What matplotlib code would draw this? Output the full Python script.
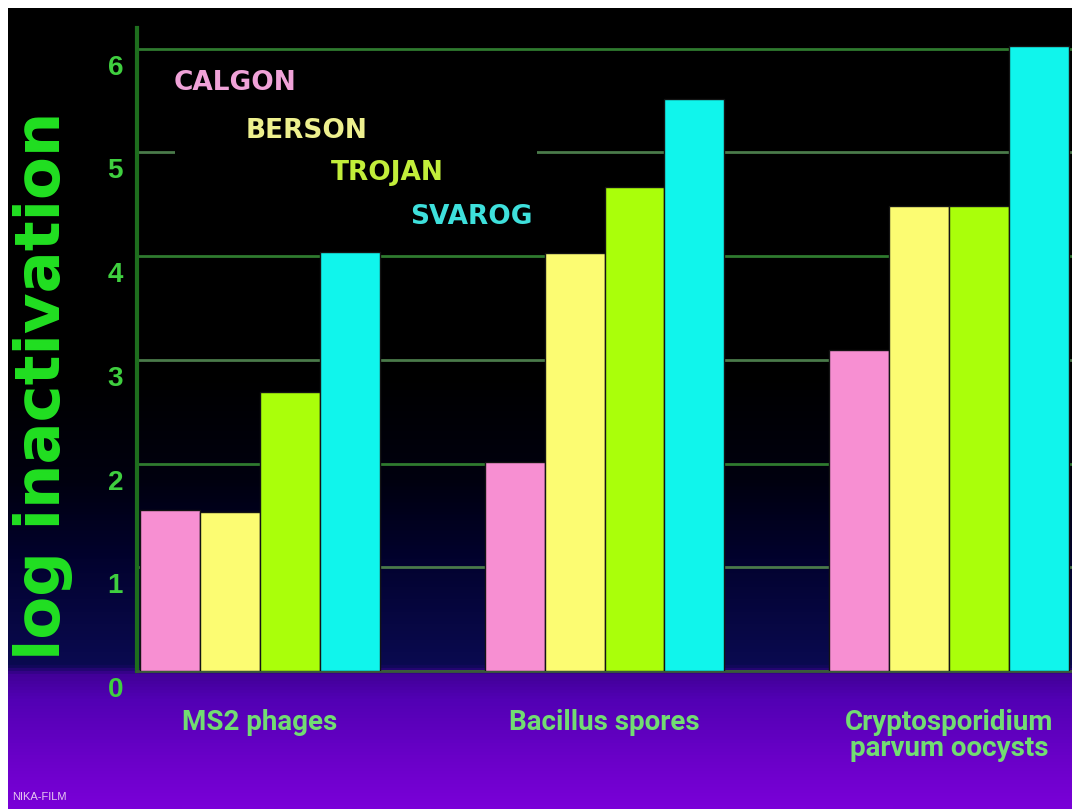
import numpy as np
import matplotlib
matplotlib.use('Agg')
import matplotlib.pyplot as plt
from matplotlib.colors import LinearSegmentedColormap
from matplotlib.patches import Rectangle
from matplotlib.transforms import ScaledTranslation

# data
groups = ['MS2 phages', 'Bacillus spores', 'Cryptosporidium\nparvum oocysts']
products = ['CALGON', 'BERSON', 'TROJAN', 'SVAROG']
calgon = [1.55, 2.02, 3.10]
berson = [1.53, 4.03, 4.48]
trojan = [2.69, 4.67, 4.48]
svarog = [4.04, 5.52, 6.03]
yticks = [0, 1, 2, 3, 4, 5, 6]

bar_colors = ['#f78fd2', '#fcfc72', '#aaff0a', '#10f5ec']
text_colors = ['#f0a2d8', '#eef08e', '#c2ee3a', '#3ee0dc']

W, H = 1072, 809
fig = plt.figure(figsize=(W / 100, H / 100), dpi=100, facecolor='white')

# background gradient (black -> navy -> purple)
bg = fig.add_axes([8 / W, 0, 1 - 8 / W, 1 - 8 / H])
stops = [(0.0, '#000000'), (0.46, '#000000'), (0.59, '#00000f'),
         (0.69, '#02022e'), (0.822, '#0a0a50'), (0.834, '#420098'),
         (0.865, '#5200b4'), (0.94, '#6a00c8'), (1.0, '#7a00d8')]
cmap = LinearSegmentedColormap.from_list('slide', stops)
grad = np.linspace(0, 1, 800).reshape(-1, 1)
bg.imshow(grad, aspect='auto', cmap=cmap, extent=[0, 1, 1, 0])
bg.set_axis_off()

# main axes
ax = fig.add_axes([137 / W, (809 - 671) / H, (W - 137) / W, 643 / H])
ax.set_facecolor('none')
ax.set_xlim(-0.357, 2.357)
ax.set_ylim(0, 6.2)

x = np.arange(len(groups))
w = 0.174
series = [calgon, berson, trojan, svarog]
for i, vals in enumerate(series):
    ax.bar(x + (i - 1.5) * w, vals, w, color=bar_colors[i],
           edgecolor='#141414', linewidth=1, zorder=3)

ax.set_axisbelow(True)
ax.yaxis.grid(True, color='#4a7a4a', linewidth=2)
ax.set_yticks(yticks)
ax.set_yticklabels([str(t) for t in yticks])
ax.set_xticks(x)
ax.set_xticklabels(groups)

# some gridlines on the slide are greener than the rest
for t, gl in zip(yticks, ax.get_ygridlines()):
    if t in (2, 4, 6):
        gl.set_color('#2f7a2f')

for s in ['top', 'right']:
    ax.spines[s].set_visible(False)
ax.spines['left'].set_color('#1e6e1e')
ax.spines['left'].set_linewidth(3)
ax.spines['bottom'].set_color('#3a5a3a')
ax.spines['bottom'].set_linewidth(2)

ax.tick_params(axis='y', length=0, pad=10, labelsize=20, labelcolor='#3fcf3f')
ax.tick_params(axis='x', length=0, pad=27, labelsize=20, labelcolor='#72dc72')

shift = ScaledTranslation(0, -0.16, fig.dpi_scale_trans)
for lab in ax.get_yticklabels():
    lab.set_fontweight('bold')
    lab.set_fontfamily(['Liberation Sans', 'DejaVu Sans'])
    lab.set_transform(lab.get_transform() + shift)
for lab in ax.get_xticklabels():
    lab.set_fontfamily(['Roboto', 'DejaVu Sans'])
    lab.set_fontweight('bold')
    lab.set_linespacing(1.0)

# black block behind the product names hides part of the 5 gridline
ax.add_patch(Rectangle((-0.247, 4.9), 1.05, 0.17, facecolor='black',
                       edgecolor='none', zorder=1))

# product names as a stepped legend
legend_pos = [(235, 83), (307, 131), (387, 173), (471, 217)]
for name, c, (px, py) in zip(products, text_colors, legend_pos):
    fig.text(px / W, 1 - py / H, name, color=c, fontsize=19, fontweight='bold',
             family='DejaVu Sans', ha='center', va='center')

fig.text(43 / W, 1 - 386 / H, 'log inactivation', rotation=90, fontsize=45,
         fontweight='bold', color='#22e022', ha='center', va='center')

fig.text(12 / W, 1 - 797 / H, 'NIKA-FILM', fontsize=8, color='#e8c8f0',
         va='center', family=['Liberation Sans', 'DejaVu Sans'])

fig.savefig('out.png', dpi=100, facecolor=fig.get_facecolor())
